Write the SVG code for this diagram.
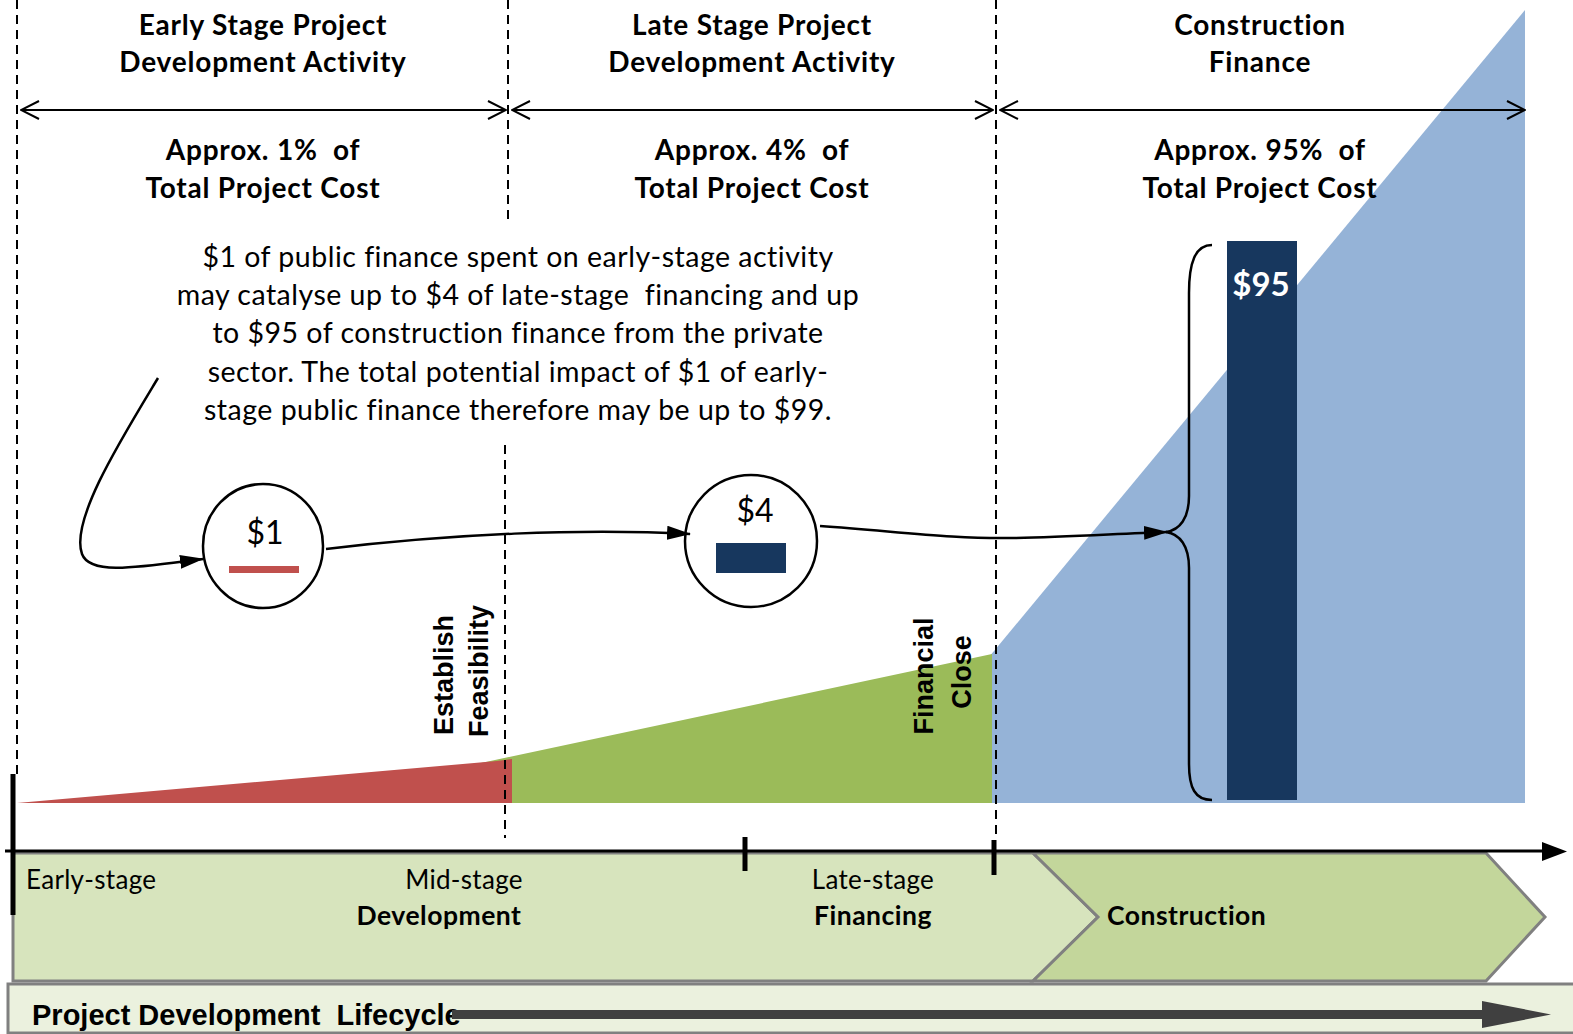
<svg xmlns="http://www.w3.org/2000/svg" width="1573" height="1034" viewBox="0 0 1573 1034">
<defs>
<style>
.hdr{font-family:Lato,"Liberation Sans",sans-serif;font-weight:bold;font-size:28px;letter-spacing:0.8px;fill:#000;text-anchor:middle}
.para{font-family:Lato,"Liberation Sans",sans-serif;font-size:28.5px;letter-spacing:0.5px;fill:#000;text-anchor:middle}
.rot{font-family:"Liberation Sans",Arial,sans-serif;font-weight:bold;font-size:27px;fill:#000;text-anchor:middle}
.stage{font-family:Lato,"Liberation Sans",sans-serif;font-size:26px;letter-spacing:0.3px;fill:#000}
.stageb{font-family:Lato,"Liberation Sans",sans-serif;font-size:26.5px;letter-spacing:0.5px;font-weight:bold;fill:#000}
.dash{stroke:#000;stroke-width:2;stroke-dasharray:9,6;fill:none}
.dbl{stroke:#000;stroke-width:2;fill:none;marker-start:url(#open);marker-end:url(#open)}
.conn{stroke:#000;stroke-width:2.5;fill:none;marker-end:url(#solid)}
.tick{stroke:#000;fill:none}
</style>
<marker id="open" viewBox="0 0 20 20" refX="19" refY="10" markerWidth="20" markerHeight="20" markerUnits="userSpaceOnUse" orient="auto-start-reverse">
<path d="M1,1 L19,10 L1,19" fill="none" stroke="#000" stroke-width="2"/>
</marker>
<marker id="solid" viewBox="0 0 24 14" refX="23" refY="7" markerWidth="24" markerHeight="14" markerUnits="userSpaceOnUse" orient="auto">
<path d="M0,0 L24,7 L0,14 Z" fill="#000"/>
</marker>
</defs>
<rect width="1573" height="1034" fill="#fff"/>

<g id="areas">
<polygon points="989,803 989,657 1525,10 1525,803" fill="#95B3D7"/>
<polygon points="481,763 992,654 992,803 481,803" fill="#9BBB59"/>
<polygon points="17,803 497,761 512,759 512,803" fill="#C0504D"/>
</g>

<g id="guides">
<line class="dash" x1="17" y1="0" x2="17" y2="774"/>
<line class="dash" x1="508" y1="0" x2="508" y2="222"/>
<line class="dash" x1="505" y1="445" x2="505" y2="838"/>
<line class="dash" x1="996" y1="0" x2="996" y2="838"/>
</g>

<g id="header-early">
<text class="hdr" x="263" y="35">Early Stage Project</text>
<text class="hdr" x="263" y="72">Development Activity</text>
<text class="hdr" x="263" y="160" xml:space="preserve">Approx. 1%  of</text>
<text class="hdr" x="263" y="198">Total Project Cost</text>
</g>
<g id="header-late">
<text class="hdr" x="752" y="35">Late Stage Project</text>
<text class="hdr" x="752" y="72">Development Activity</text>
<text class="hdr" x="752" y="160" xml:space="preserve">Approx. 4%  of</text>
<text class="hdr" x="752" y="198">Total Project Cost</text>
</g>
<g id="header-construction">
<text class="hdr" x="1260" y="35">Construction</text>
<text class="hdr" x="1260" y="72">Finance</text>
<text class="hdr" x="1260" y="160" xml:space="preserve">Approx. 95%  of</text>
<text class="hdr" x="1260" y="198">Total Project Cost</text>
</g>

<g id="span-arrows">
<line class="dbl" x1="21" y1="110" x2="506" y2="110"/>
<line class="dbl" x1="512" y1="110" x2="993" y2="110"/>
<line class="dbl" x1="1000" y1="110" x2="1525" y2="110"/>
</g>

<g id="note">
<text class="para" x="518" y="267">$1 of public finance spent on early-stage activity</text>
<text class="para" x="518" y="305" xml:space="preserve">may catalyse up to $4 of late-stage  financing and up</text>
<text class="para" x="518" y="343">to $95 of construction finance from the private</text>
<text class="para" x="518" y="382">sector. The total potential impact of $1 of early-</text>
<text class="para" x="518" y="420">stage public finance therefore may be up to $99.</text>
</g>

<g id="bar95">
<rect x="1227" y="241" width="70" height="559" fill="#17375E"/>
<text x="1261" y="296" font-family="Lato,'Liberation Sans',sans-serif" font-weight="bold" font-size="33" fill="#fff" text-anchor="middle">$95</text>
</g>

<g id="brace">
<path d="M1212,245 C1195,245 1189,263 1189,293 L1189,496 C1189,518 1180,530 1166,532 C1180,534 1189,546 1189,568 L1189,764 C1189,788 1195,800 1212,800" fill="none" stroke="#000" stroke-width="2.5"/>
</g>

<g id="node1">
<ellipse cx="263" cy="546" rx="60" ry="62" fill="#fff" stroke="#000" stroke-width="2.5"/>
<text x="265" y="544" font-family="Lato,'Liberation Sans',sans-serif" font-size="32" fill="#000" text-anchor="middle">$1</text>
<rect x="229" y="566" width="70" height="7" fill="#C0504D"/>
</g>
<g id="node4">
<ellipse cx="751" cy="541" rx="66" ry="66" fill="#fff" stroke="#000" stroke-width="2.5"/>
<text x="755" y="522" font-family="Lato,'Liberation Sans',sans-serif" font-size="32" fill="#000" text-anchor="middle">$4</text>
<rect x="716" y="543" width="70" height="30" fill="#17375E"/>
</g>

<g id="connectors">
<path class="conn" d="M158,378 C120,441 70,521 82,554 C90,576 140,567 203,559"/>
<path class="conn" d="M326,549 C451,534 582,528 690,534"/>
<path class="conn" d="M820,526 C903,532 953,539 1013,538 C1063,537 1113,534 1167,532"/>
</g>

<g id="milestones">
<text class="rot" transform="translate(453,675) rotate(-90)">Establish</text>
<text class="rot" transform="translate(488,671) rotate(-90)">Feasibility</text>
<text class="rot" transform="translate(933,676) rotate(-90)">Financial</text>
<text class="rot" transform="translate(971,672) rotate(-90)">Close</text>
</g>

<g id="bottom-bar">
<rect x="8" y="984" width="1570" height="49" fill="#EBF1DE" stroke="#808080" stroke-width="3"/>
<text x="32" y="1025" font-family="'Liberation Sans',Arial,sans-serif" font-weight="bold" font-size="29" fill="#000" xml:space="preserve">Project Development  Lifecycle</text>
<rect x="452" y="1010" width="1032" height="9" fill="#404040"/>
<polygon points="1482,1001 1551,1014.5 1482,1028" fill="#404040"/>
</g>

<g id="chevron-dev">
<polygon points="13,853 1033,853 1098,917 1033,981 13,981" fill="#D7E4BD" stroke="#808080" stroke-width="3"/>
<text class="stage" x="26" y="889">Early-stage</text>
<text class="stage" x="464" y="889" text-anchor="middle">Mid-stage</text>
<text class="stageb" x="439" y="925" text-anchor="middle">Development</text>
<text class="stage" x="873" y="889" text-anchor="middle">Late-stage</text>
<text class="stageb" x="873" y="925" text-anchor="middle">Financing</text>
</g>
<g id="chevron-construction">
<polygon points="1033,853 1486,853 1545,917 1486,981 1033,981 1098,917" fill="#C3D69B" stroke="#808080" stroke-width="3"/>
<text class="stageb" x="1107" y="925">Construction</text>
</g>

<g id="timeline">
<line x1="5" y1="851" x2="1546" y2="851" stroke="#000" stroke-width="3"/>
<polygon points="1542,842 1567,851.5 1542,861" fill="#000"/>
<line class="tick" x1="13" y1="774" x2="13" y2="915" stroke-width="5"/>
<line class="tick" x1="745" y1="837" x2="745" y2="871" stroke-width="5"/>
<line class="tick" x1="994" y1="840" x2="994" y2="875" stroke-width="5"/>
</g>
</svg>
